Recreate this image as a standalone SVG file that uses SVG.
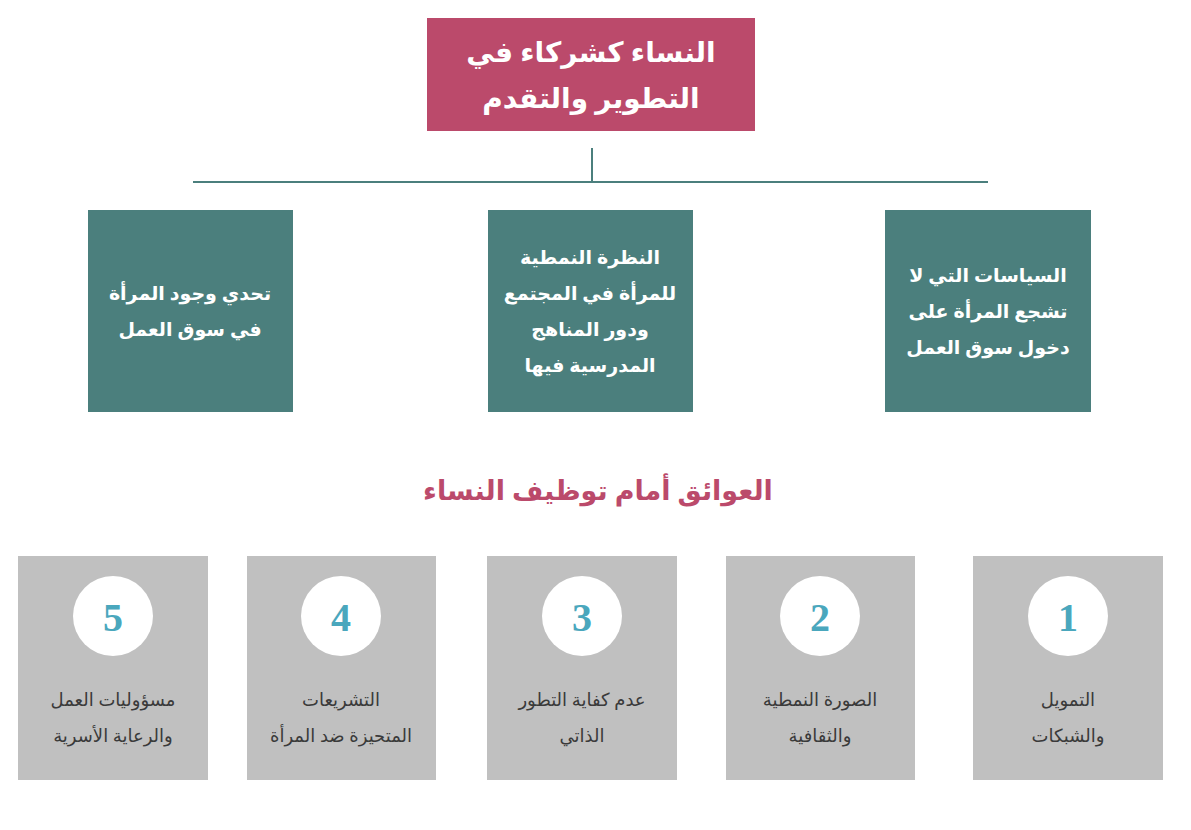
<svg xmlns="http://www.w3.org/2000/svg" width="1191" height="830" viewBox="0 0 1191 830">
<style>
.t{font-family:"Noto Sans","DejaVu Sans",sans-serif;font-weight:bold;text-anchor:middle;direction:rtl}
.w{fill:#fff;font-size:19px}
.g{fill:#3a3a3a;font-size:18px;font-weight:normal}
.teal{fill:#4b7f7d}
.gray{fill:#c0c0c0}
.num{font-family:"Liberation Serif",serif;font-weight:bold;font-size:40px;fill:#4aa7bd;text-anchor:middle}
</style>
<rect width="1191" height="830" fill="#fff"/>
<g id="root">
<rect x="427" y="18" width="328" height="113" fill="#bb4a6b"/>
<text class="t" x="591" y="62" fill="#fff" font-size="28">النساء كشركاء في</text>
<text class="t" x="591" y="108" fill="#fff" font-size="28">التطوير والتقدم</text>
</g>
<g id="connectors" stroke="#4b7f7d" stroke-width="2" fill="none">
<line x1="592" y1="148" x2="592" y2="182"/>
<line x1="193" y1="182" x2="988" y2="182"/>
</g>
<g id="n1"><rect class="teal" x="885" y="210" width="206" height="202"/>
<text class="t w" x="988" y="282">السياسات التي لا</text>
<text class="t w" x="988" y="318">تشجع المرأة على</text>
<text class="t w" x="988" y="354">دخول سوق العمل</text></g>
<g id="n2"><rect class="teal" x="488" y="210" width="205" height="202"/>
<text class="t w" x="590" y="264">النظرة النمطية</text>
<text class="t w" x="590" y="300">للمرأة في المجتمع</text>
<text class="t w" x="590" y="336">ودور المناهج</text>
<text class="t w" x="590" y="372">المدرسية فيها</text></g>
<g id="n3"><rect class="teal" x="88" y="210" width="205" height="202"/>
<text class="t w" x="190" y="300">تحدي وجود المرأة</text>
<text class="t w" x="190" y="336">في سوق العمل</text></g>
<g id="title"><text class="t" x="598" y="500" fill="#bb4a6b" font-size="27">العوائق أمام توظيف النساء</text></g>
<g id="b1"><rect class="gray" x="973" y="556" width="190" height="224"/><circle cx="1068" cy="616" r="40" fill="#fff"/><text class="num" x="1068" y="631">1</text>
<text class="t g" x="1068" y="706">التمويل</text><text class="t g" x="1068" y="742">والشبكات</text></g>
<g id="b2"><rect class="gray" x="726" y="556" width="189" height="224"/><circle cx="820" cy="616" r="40" fill="#fff"/><text class="num" x="820" y="631">2</text>
<text class="t g" x="820" y="706">الصورة النمطية</text><text class="t g" x="820" y="742">والثقافية</text></g>
<g id="b3"><rect class="gray" x="487" y="556" width="190" height="224"/><circle cx="582" cy="616" r="40" fill="#fff"/><text class="num" x="582" y="631">3</text>
<text class="t g" x="582" y="706">عدم كفاية التطور</text><text class="t g" x="582" y="742">الذاتي</text></g>
<g id="b4"><rect class="gray" x="247" y="556" width="189" height="224"/><circle cx="341" cy="616" r="40" fill="#fff"/><text class="num" x="341" y="631">4</text>
<text class="t g" x="341" y="706">التشريعات</text><text class="t g" x="341" y="742">المتحيزة ضد المرأة</text></g>
<g id="b5"><rect class="gray" x="18" y="556" width="190" height="224"/><circle cx="113" cy="616" r="40" fill="#fff"/><text class="num" x="113" y="631">5</text>
<text class="t g" x="113" y="706">مسؤوليات العمل</text><text class="t g" x="113" y="742">والرعاية الأسرية</text></g>
</svg>
